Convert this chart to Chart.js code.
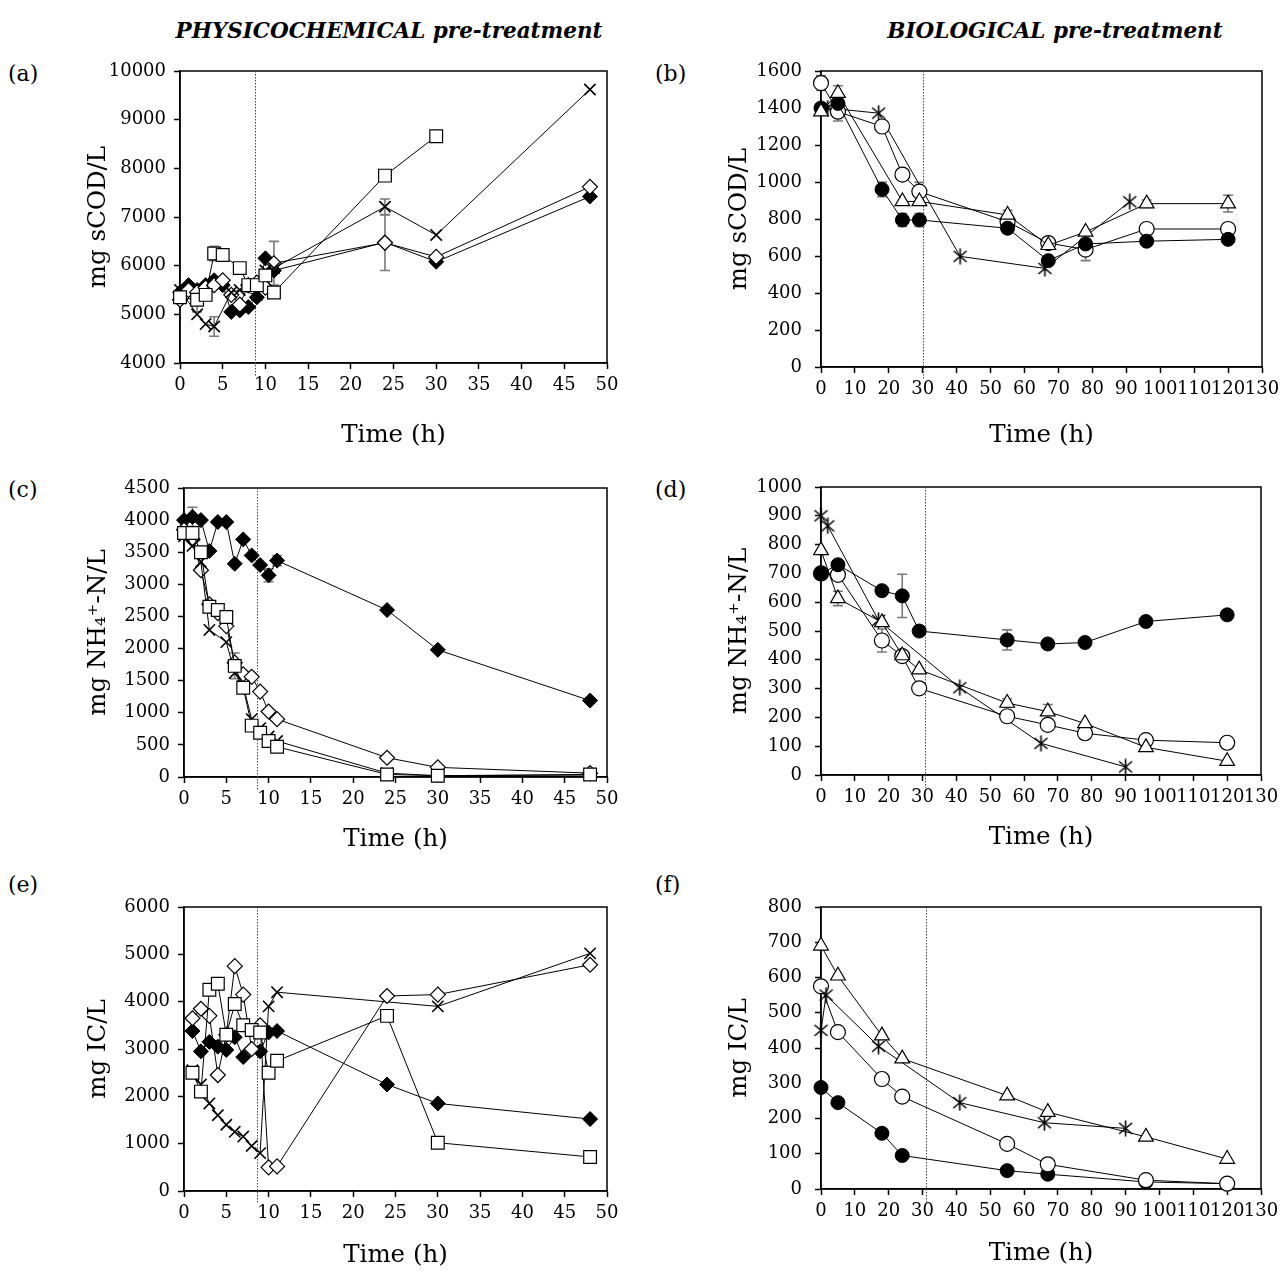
<!DOCTYPE html>
<html>
<head>
<meta charset="utf-8">
<script src="https://cdn.jsdelivr.net/npm/chart.js@4.4.1/dist/chart.umd.min.js"></script>
<style>
  html, body { margin: 0; padding: 0; background: #fff; }
  body { position: relative; width: 1285px; height: 1272px; overflow: hidden; font-family: 'DejaVu Serif', serif; color: #000; }
  canvas { position: absolute; }
  .hdr { position: absolute; font-weight: bold; font-style: italic; font-size: 21.5px; white-space: nowrap; transform: translate(-50%, -50%); }
  .lbl { position: absolute; font-size: 22px; transform: translateY(-50%); }
</style>
</head>
<body>
<div class="hdr" style="left:389px; top:30px;">PHYSICOCHEMICAL pre-treatment</div>
<div class="hdr" style="left:1055px; top:30px;">BIOLOGICAL pre-treatment</div>
<div class="lbl" style="left:8px; top:73px;">(a)</div>
<div class="lbl" style="left:655px; top:73px;">(b)</div>
<div class="lbl" style="left:8px; top:489px;">(c)</div>
<div class="lbl" style="left:655px; top:489px;">(d)</div>
<div class="lbl" style="left:8px; top:884px;">(e)</div>
<div class="lbl" style="left:655px; top:884px;">(f)</div>

<canvas id="pa"></canvas>
<canvas id="pb"></canvas>
<canvas id="pc"></canvas>
<canvas id="pd"></canvas>
<canvas id="pe"></canvas>
<canvas id="pf"></canvas>

<script>
// ---------- Physicochemical pre-treatment (time in h) ----------
const physTime = [0, 1, 2, 3, 4, 5, 6, 7, 8, 9, 10, 11, 24, 30, 48];

// (a) soluble COD, mg sCOD/L
const aFilledDiamond = [5450, 5600, 5500, 5600, 5700, 5600, 5050, 5080, 5150, 5350, 6150, 5900, 6480, 6080, 7420];
const aOpenDiamond   = [5300, 5500, 5450, 5550, 5600, 5700, 5400, 5200, 5600, 5650, 5550, 6050, 6470, 6180, 7620];
const aOpenDiamondErr= [null, null, null, null, null, null, null, null, null, null, null, 450, 570, null, null];
const aSquare        = [5350, null, 5300, 5400, 6250, 6220, null, 5950, 5600, 5600, 5800, 5450, 7850, 8660, null];
const aSquareErr     = [null, null, 250, null, 150, null, null, null, null, null, null, null, null, null, null];
const aCross         = [5500, null, 5000, 4800, 4750, null, 5450, 5500, null, 5400, 5900, 5950, 7210, 6630, 9620];
const aCrossErr      = [null, null, null, null, 200, null, null, null, null, null, null, null, 160, null, null];

// (c) ammonium, mg NH4+-N/L
const cFilledDiamond = [4000, 4050, 4000, 3520, 3970, 3970, 3320, 3700, 3450, 3300, 3140, 3370, 2600, 1980, 1190];
const cFilledErr     = [null, 150, null, null, null, null, null, null, null, null, 100, 80, null, null, null];
const cOpenDiamond   = [3850, 3700, 3220, 2690, 2550, 2350, 1780, 1600, 1560, 1330, 1020, 900, 300, 150, 60];
const cSquare        = [3800, 3800, 3500, 2650, 2600, 2490, 1730, 1390, 800, 690, 560, 470, 40, 20, 40];
const cSquareErr     = [null, null, null, null, null, null, 200, null, null, null, null, null, null, null, null];
const cCross         = [3750, 3600, 3350, 2290, null, 2100, 1620, 1420, 900, 760, 630, 560, 60, 20, 30];

// (e) inorganic carbon, mg IC/L
const eTime          = [1, 2, 3, 4, 5, 6, 7, 8, 9, 10, 11, 24, 30, 48];
const eFilledDiamond = [3380, 2950, 3150, 3050, 2980, 3250, 2830, 3000, 2950, 3350, 3380, 2250, 1850, 1520];
const eOpenDiamond   = [3650, 3850, 3700, 2450, 3300, 4750, 4150, 3000, 3500, 500, 520, 4120, 4150, 4780];
const eSquare        = [2500, 2100, 4250, 4380, 3300, 3950, 3500, 3400, 3350, 2500, 2750, 3700, 1020, 720];
const eCross         = [2550, 2250, 1850, 1600, 1400, 1250, 1150, 950, 800, 3900, 4200, null, 3900, 5020];

// ---------- Biological pre-treatment (time in h) ----------
const bioTime  = [0, 5, 18, 24, 29, 55, 67, 78, 96, 120];

// (b) soluble COD
const bFilledCircle = [1400, 1425, 960, 795, 795, 750, 575, 665, 680, 690];
const bFilledErr    = [null, null, 40, 35, 35, null, null, null, null, null];
const bOpenCircle   = [1535, 1380, 1300, 1040, 948, 785, 670, 635, 746, 746];
const bOpenErr      = [40, 50, null, null, 50, null, null, 60, null, null];
const bTriangle     = [1380, 1480, null, 895, 895, 822, 658, 730, 883, 883];
const bTriangleErr  = [null, 40, null, null, null, 25, null, null, 20, 45];
const bStarTime     = [2, 17, 41, 66, 91];
const bStar         = [1400, 1372, 598, 533, 893];

// (d) ammonium
const dFilledTime   = [0, 5, 18, 24, 29, 55, 67, 78, 96, 120];
const dFilledCircle = [700, 730, 640, 622, 500, 469, 455, 460, 533, 556];
const dFilledErr    = [null, null, null, 75, null, 35, null, null, null, 15];
const dOpenCircle   = [700, 695, 467, 413, 301, 204, 174, 145, 121, 112];
const dOpenErr      = [null, null, 40, null, null, null, null, null, null, null];
const dTriangle     = [780, 613, 530, 415, 366, 250, 220, 179, 96, 48];
const dTriangleErr  = [null, 25, null, null, null, 15, 25, null, null, null];
const dStarTime     = [0, 2, 17, 41, 65, 90];
const dStar         = [900, 865, 537, 303, 110, 28];

// (f) inorganic carbon
const fTime         = [0, 5, 18, 24, 55, 67, 96, 120];
const fFilledCircle = [288, 245, 158, 95, 52, 42, 20, 15];
const fOpenCircle   = [575, 445, 312, 262, 128, 70, 25, 15];
const fTriangle     = [690, 605, 435, 370, 265, 218, 148, 85];
const fStarTime     = [0, 1.5, 17, 41, 66, 90];
const fStar         = [450, 550, 405, 245, 188, 172];

// Ticks
const physXTicks = { min: 0, max: 50, step: 5 };
const bioXTicks  = { min: 0, max: 130, step: 10 };

// ---------- helpers ----------
const FONT = "'DejaVu Serif', serif";
Chart.defaults.font.family = FONT;
Chart.defaults.color = '#000';

function pts(times, vals) {
  return times.map((t, i) => ({ x: t, y: vals[i] }));
}

function asteriskCanvas(size) {
  const c = document.createElement('canvas');
  c.width = size; c.height = size;
  const g = c.getContext('2d');
  g.strokeStyle = '#000'; g.lineWidth = 1.6;
  const m = 2, s = size - 2;
  g.beginPath();
  g.moveTo(m, m + 1); g.lineTo(s, s - 1);
  g.moveTo(s, m + 1); g.lineTo(m, s - 1);
  g.moveTo(size / 2, 0.5); g.lineTo(size / 2, size - 0.5);
  g.stroke();
  return c;
}
const STAR = asteriskCanvas(17);

const MARK = {
  filledDiamond: { pointStyle: 'rectRot', pointRadius: 7.5, pointBackgroundColor: '#000', pointBorderColor: '#000', pointBorderWidth: 1 },
  openDiamond:   { pointStyle: 'rectRot', pointRadius: 7.5, pointBackgroundColor: '#fff', pointBorderColor: '#000', pointBorderWidth: 1.2 },
  square:        { pointStyle: 'rect',    pointRadius: 9,   pointBackgroundColor: '#fff', pointBorderColor: '#000', pointBorderWidth: 1.2 },
  cross:         { pointStyle: 'crossRot',pointRadius: 8,   pointBackgroundColor: '#000', pointBorderColor: '#000', pointBorderWidth: 1.6 },
  filledCircle:  { pointStyle: 'circle',  pointRadius: 7,   pointBackgroundColor: '#000', pointBorderColor: '#000', pointBorderWidth: 1 },
  openCircle:    { pointStyle: 'circle',  pointRadius: 7.5, pointBackgroundColor: '#fff', pointBorderColor: '#000', pointBorderWidth: 1.2 },
  triangle:      { pointStyle: 'triangle',pointRadius: 8.5, pointBackgroundColor: '#fff', pointBorderColor: '#000', pointBorderWidth: 1.2 },
  asterisk:      { pointStyle: STAR,      pointRadius: 8 }
};

function series(times, vals, mark, err) {
  return Object.assign({
    data: pts(times, vals),
    errors: err || null,
    borderColor: '#000', borderWidth: 1, tension: 0, spanGaps: true, fill: false,
    clip: false
  }, MARK[mark]);
}

// draws the frame, the dotted reference time and the error bars
const panelDecor = {
  id: 'panelDecor',
  beforeDatasetsDraw(chart, args, opts) {
    const { ctx, chartArea: a, scales: { x, y } } = chart;
    ctx.save();
    // dotted reference line
    const px = Math.round(x.getPixelForValue(opts.marker)) + 0.5;
    ctx.strokeStyle = '#444'; ctx.lineWidth = 1; ctx.setLineDash([1.5, 1.5]);
    ctx.beginPath(); ctx.moveTo(px, a.top); ctx.lineTo(px, a.bottom + 13); ctx.stroke();
    ctx.setLineDash([]);
    // error bars
    ctx.strokeStyle = '#7a7a7a'; ctx.lineWidth = 1.6;
    chart.data.datasets.forEach((ds, i) => {
      if (!ds.errors) return;
      const meta = chart.getDatasetMeta(i);
      ds.errors.forEach((e, j) => {
        if (e == null || ds.data[j].y == null) return;
        const el = meta.data[j];
        const y1 = y.getPixelForValue(ds.data[j].y - e);
        const y2 = y.getPixelForValue(ds.data[j].y + e);
        ctx.beginPath();
        ctx.moveTo(el.x, y1); ctx.lineTo(el.x, y2);
        ctx.moveTo(el.x - 5, y1); ctx.lineTo(el.x + 5, y1);
        ctx.moveTo(el.x - 5, y2); ctx.lineTo(el.x + 5, y2);
        ctx.stroke();
      });
    });
    ctx.restore();
  },
  beforeDraw(chart) {
    const { ctx, chartArea: a } = chart;
    ctx.save();
    ctx.strokeStyle = '#000'; ctx.lineWidth = 1.5;
    ctx.strokeRect(a.left, a.top, a.right - a.left, a.bottom - a.top);
    ctx.restore();
  }
};

const PADL = 170, PADT = 25, PADR = 35, PADB = 95;
const TICK_SIZE = 18, TITLE_SIZE = 24.5;

function panel(id, box, opt) {
  const cv = document.getElementById(id);
  const cl = box.l - PADL, ct = box.t - PADT;
  const cw = (box.r - box.l) + PADL + PADR, ch = (box.b - box.t) + PADT + PADB;
  cv.style.left = cl + 'px'; cv.style.top = ct + 'px';
  cv.width = cw; cv.height = ch;
  const lh = TITLE_SIZE * 1.2;
  const yTitlePad = opt.yTitleX - cl - lh / 2;
  const xTitlePad = (ct + ch) - opt.xTitleY - lh / 2;
  const tickStyle = { color: '#000', font: { family: FONT, size: TICK_SIZE }, format: { useGrouping: false } };
  new Chart(cv, {
    type: 'line',
    data: { datasets: opt.datasets },
    options: {
      responsive: false, animation: false, devicePixelRatio: 1,
      layout: { padding: { left: 0, top: PADT, right: PADR, bottom: 0 } },
      plugins: { legend: { display: false }, tooltip: { enabled: false }, panelDecor: { marker: opt.marker } },
      scales: {
        x: {
          type: 'linear', min: opt.xt.min, max: opt.xt.max,
          ticks: Object.assign({ stepSize: opt.xt.step, autoSkip: false, maxRotation: 0, minRotation: 0, padding: 6 }, tickStyle),
          grid: { drawOnChartArea: false, drawTicks: true, tickLength: 6, tickColor: '#000', tickWidth: 1.5 },
          border: { display: true, color: '#000', width: 1.5 },
          title: { display: true, text: 'Time (h)', color: '#000', font: { family: FONT, size: TITLE_SIZE }, padding: { top: 0, bottom: xTitlePad } },
          afterFit(s) { s.height = PADB; }
        },
        y: {
          type: 'linear', min: opt.yt.min, max: opt.yt.max,
          ticks: Object.assign({ stepSize: opt.yt.step, autoSkip: false, padding: opt.yTickPad }, tickStyle),
          grid: { drawOnChartArea: false, drawTicks: true, tickLength: 6, tickColor: '#000', tickWidth: 1.5 },
          border: { display: true, color: '#000', width: 1.5 },
          title: { display: true, text: opt.yTitle, color: '#000', font: { family: FONT, size: TITLE_SIZE }, padding: { top: yTitlePad, bottom: 0 } },
          afterFit(s) { s.width = PADL; }
        }
      }
    },
    plugins: [panelDecor]
  });
}

// (a)
panel('pa', { l: 180, t: 71, r: 607, b: 363 }, {
  xt: physXTicks, yt: { min: 4000, max: 10000, step: 1000 }, marker: 8.8,
  yTitle: 'mg sCOD/L', yTitleX: 99, xTitleY: 436, yTickPad: 8,
  datasets: [
    series(physTime, aSquare, 'square', aSquareErr),
    series(physTime, aCross, 'cross', aCrossErr),
    series(physTime, aOpenDiamond, 'openDiamond', aOpenDiamondErr),
    series(physTime, aFilledDiamond, 'filledDiamond')
  ]
});

// (b)
panel('pb', { l: 821, t: 71, r: 1262, b: 367 }, {
  xt: bioXTicks, yt: { min: 0, max: 1600, step: 200 }, marker: 30,
  yTitle: 'mg sCOD/L', yTitleX: 740, xTitleY: 436, yTickPad: 13,
  datasets: [
    series(bioTime, bTriangle, 'triangle', bTriangleErr),
    series(bioTime, bFilledCircle, 'filledCircle', bFilledErr),
    series(bioTime, bOpenCircle, 'openCircle', bOpenErr),
    series(bStarTime, bStar, 'asterisk')
  ]
});

// (c)
panel('pc', { l: 184, t: 488, r: 607, b: 777.5 }, {
  xt: physXTicks, yt: { min: 0, max: 4500, step: 500 }, marker: 8.6,
  yTitle: 'mg NH\u2084\u207A-N/L', yTitleX: 99, xTitleY: 840, yTickPad: 8,
  datasets: [
    series(physTime, cSquare, 'square', cSquareErr),
    series(physTime, cCross, 'cross'),
    series(physTime, cOpenDiamond, 'openDiamond'),
    series(physTime, cFilledDiamond, 'filledDiamond', cFilledErr)
  ]
});

// (d)
panel('pd', { l: 821, t: 487, r: 1261, b: 775 }, {
  xt: bioXTicks, yt: { min: 0, max: 1000, step: 100 }, marker: 30.6,
  yTitle: 'mg NH\u2084\u207A-N/L', yTitleX: 740, xTitleY: 838, yTickPad: 13,
  datasets: [
    series(dFilledTime, dFilledCircle, 'filledCircle', dFilledErr),
    series(bioTime, dTriangle, 'triangle', dTriangleErr),
    series(bioTime, dOpenCircle, 'openCircle', dOpenErr),
    series(dStarTime, dStar, 'asterisk')
  ]
});

// (e)
panel('pe', { l: 184, t: 907, r: 607, b: 1191 }, {
  xt: physXTicks, yt: { min: 0, max: 6000, step: 1000 }, marker: 8.6,
  yTitle: 'mg IC/L', yTitleX: 99, xTitleY: 1256, yTickPad: 8,
  datasets: [
    series(eTime, eSquare, 'square'),
    series(eTime, eOpenDiamond, 'openDiamond'),
    series(eTime, eCross, 'cross'),
    series(eTime, eFilledDiamond, 'filledDiamond')
  ]
});

// (f)
panel('pf', { l: 821, t: 907, r: 1261, b: 1189 }, {
  xt: bioXTicks, yt: { min: 0, max: 800, step: 100 }, marker: 31,
  yTitle: 'mg IC/L', yTitleX: 740, xTitleY: 1254, yTickPad: 13,
  datasets: [
    series(fTime, fTriangle, 'triangle'),
    series(fStarTime, fStar, 'asterisk'),
    series(fTime, fOpenCircle, 'openCircle'),
    series(fTime, fFilledCircle, 'filledCircle')
  ]
});
</script>
</body>
</html>
